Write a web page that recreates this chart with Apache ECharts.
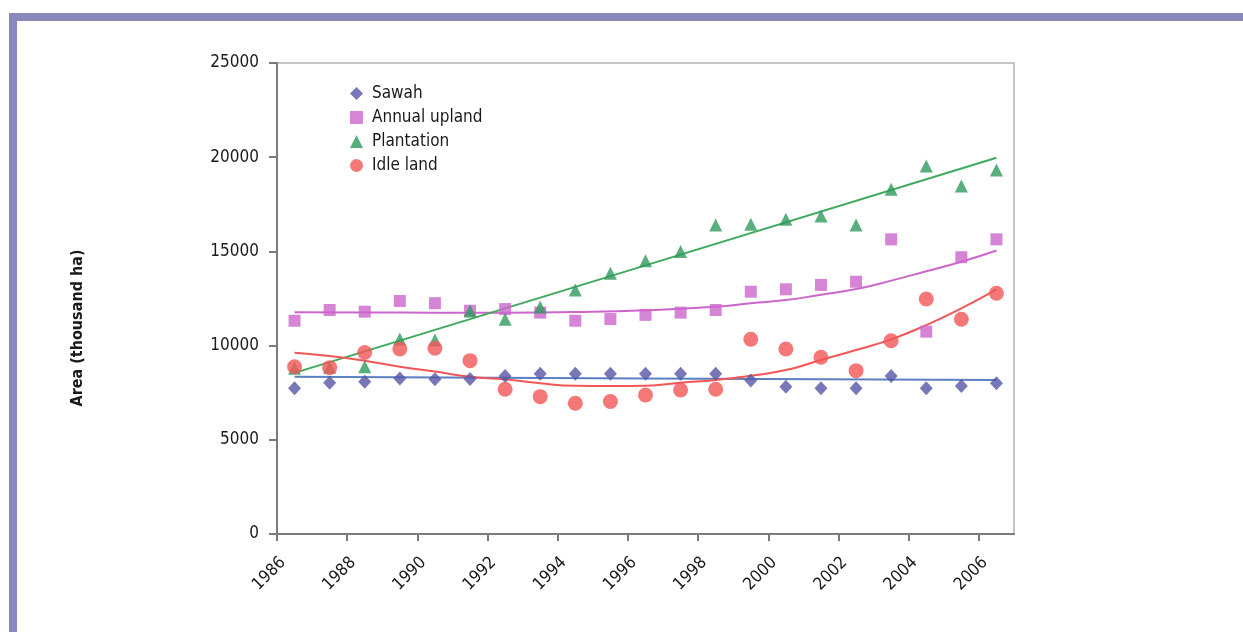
<!DOCTYPE html>
<html>
<head>
<meta charset="utf-8">
<script src="https://cdn.jsdelivr.net/npm/echarts@6/dist/echarts.min.js"></script>
<style>
html,body{margin:0;padding:0;background:#fff;}
#chart{width:1243px;height:632px;}
</style>
</head>
<body>
<div id="chart"></div>
<script>
// ---- data ----
const years = [1986.5,1987.5,1988.5,1989.5,1990.5,1991.5,1992.5,1993.5,1994.5,1995.5,1996.5,1997.5,1998.5,1999.5,2000.5,2001.5,2002.5,2003.5,2004.5,2005.5,2006.5];
const sawah = [7730,8030,8080,8260,8210,8230,8390,8500,8500,8500,8500,8500,8500,8150,7820,7730,7730,8390,7730,7860,8000];
const annualUpland = [11320,11890,11800,12370,12250,11850,11940,11750,11320,11410,11630,11750,11890,12860,12990,13220,13390,15640,10740,14690,15640];
const plantation = [8800,8850,8880,10350,10300,11840,11400,12050,12950,13840,14500,15000,16400,16440,16700,16880,16400,18300,19530,18470,19320];
const idleLand = [8880,8830,9630,9820,9860,9200,7680,7290,6940,7030,7380,7640,7680,10340,9820,9380,8670,10260,12470,11400,12780];

// trend lines
const sawahTrendX = [1986.5,1996.5,2006.5];
const sawahTrend = [8350,8260,8170];
const plantTrendX = [1986.5,1996.5,2006.5];
const plantTrend = [8550,14260,19970];
const uplandTrendX = [1986.5,1988.5,1990.5,1992.5,1994.5,1996.5,1998.5,1999.5,2000.5,2001.5,2002.5,2003.5,2004.5,2005.5,2006.5];
const uplandTrend = [11770,11760,11750,11750,11780,11870,12060,12250,12420,12700,13000,13450,13950,14450,15050];
const idleTrendX = years;
const idleTrend = [9620,9450,9200,8880,8620,8350,8210,8000,7870,7860,7870,8030,8175,8400,8700,9240,9770,10330,11090,11980,12990];

const yTicks = [0,5000,10000,15000,20000,25000];
const xTickLabels = [1986,1988,1990,1992,1994,1996,1998,2000,2002,2004,2006];

const names = ['Sawah','Annual upland','Plantation','Idle land'];
const colors = ['#5656a6','#cc66cc','#2f9a5c','#f25656'];
const lineColors = ['#5b7fc2','#cc66cc','#3daa5e','#f25656'];

function zip(xs, ys){ return xs.map((x,i)=>[x, ys[i]]); }

const FONT = "'DejaVu Sans Condensed','Liberation Sans Narrow',sans-serif";

const chart = echarts.init(document.getElementById('chart'), null, {renderer:'canvas'});
const option = {
  animation:false,
  backgroundColor:'#fff',
  textStyle:{fontFamily:FONT},
  graphic:[
    {type:'rect', shape:{x:9,y:13,width:1234,height:8}, style:{fill:'#8888bb'}, z:100},
    {type:'rect', shape:{x:9,y:13,width:8,height:619}, style:{fill:'#8888bb'}, z:100},
    {type:'text', x:78, y:328, rotation:Math.PI/2,
      style:{text:'Area (thousand ha)', fontFamily:FONT, fontWeight:'bold', fontSize:16, fill:'#1a1a1a', align:'center', verticalAlign:'middle'}}
  ],
  grid:{left:277, top:63, right:229, bottom:98, show:true, borderColor:'#b4b4b4', borderWidth:1.5, backgroundColor:'#fff'},
  legend:{
    orient:'vertical', left:345, top:80, itemWidth:13, itemHeight:13, itemGap:7,
    data:names, selectedMode:false,
    textStyle:{fontFamily:FONT, fontSize:17, color:'#1a1a1a', padding:[0,0,0,4]}
  },
  xAxis:{
    type:'value', min:1986, max:2007, interval:2,
    axisLine:{show:true, lineStyle:{color:'#7a7a7a', width:2}},
    axisTick:{show:true, length:7, lineStyle:{color:'#7a7a7a', width:2}},
    splitLine:{show:false},
    axisLabel:{rotate:45, margin:20, verticalAlign:'top', fontFamily:FONT, fontSize:17, color:'#1a1a1a',
      showMaxLabel:false,
      formatter:function(v){ return xTickLabels.indexOf(v) >= 0 ? String(v) : ''; }}
  },
  yAxis:{
    type:'value', min:0, max:25000, interval:5000,
    axisLine:{show:true, lineStyle:{color:'#7a7a7a', width:2}},
    axisTick:{show:true, length:8, lineStyle:{color:'#7a7a7a', width:2}},
    splitLine:{show:false},
    axisLabel:{margin:18, fontFamily:FONT, fontSize:17, color:'#1a1a1a',
      formatter:function(v){ return yTicks.indexOf(v) >= 0 ? String(v) : ''; }}
  },
  series:[
    {type:'line', name:'Sawah trend', data:zip(sawahTrendX,sawahTrend), smooth:true, showSymbol:false, symbol:'none', lineStyle:{color:lineColors[0], width:2}, z:2, silent:true},
    {type:'line', name:'Annual upland trend', data:zip(uplandTrendX,uplandTrend), smooth:true, showSymbol:false, symbol:'none', lineStyle:{color:lineColors[1], width:2}, z:2, silent:true},
    {type:'line', name:'Plantation trend', data:zip(plantTrendX,plantTrend), smooth:true, showSymbol:false, symbol:'none', lineStyle:{color:lineColors[2], width:2}, z:2, silent:true},
    {type:'line', name:'Idle land trend', data:zip(idleTrendX,idleTrend), smooth:true, showSymbol:false, symbol:'none', lineStyle:{color:lineColors[3], width:2}, z:2, silent:true},
    {type:'scatter', name:names[0], data:zip(years,sawah), symbol:'diamond', symbolSize:[13,14], itemStyle:{color:colors[0]}, z:3},
    {type:'scatter', name:names[1], data:zip(years,annualUpland), symbol:'rect', symbolSize:12, itemStyle:{color:colors[1]}, z:3},
    {type:'scatter', name:names[2], data:zip(years,plantation), symbol:'triangle', symbolSize:[13,13], itemStyle:{color:colors[2]}, z:3},
    {type:'scatter', name:names[3], data:zip(years,idleLand), symbol:'circle', symbolSize:15, itemStyle:{color:colors[3]}, z:3}
  ]
};
chart.setOption(option);
</script>
</body>
</html>
